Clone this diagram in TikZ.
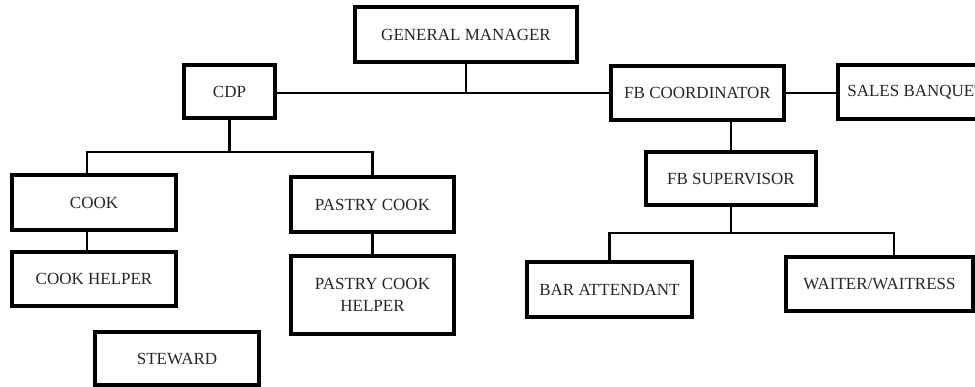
\documentclass[tikz,border=0pt]{standalone}
\usepackage{fontspec}
\setmainfont{Liberation Serif}
\begin{document}
\begin{tikzpicture}[x=1pt,y=-1pt,
  box/.style={draw=black,line width=3.2pt,inner sep=0pt,align=center,
    font=\fontsize{17}{22}\selectfont,text=black!85},
  conn/.style={draw=black,line width=2.2pt}]
\clip (0,0) rectangle (975,386);
\fill[white] (0,0) rectangle (975,386);
\node[box,minimum width=222pt,minimum height=55pt] (gm) at (466,34.5) {GENERAL MANAGER};
\node[box,minimum width=91pt,minimum height=53pt] (cdp) at (229.5,91.5) {CDP};
\node[box,minimum width=173pt,minimum height=54pt] (fbc) at (697.5,93) {FB COORDINATOR};
\node[box,minimum width=156pt,minimum height=54pt] (sales) at (916,92) {SALES BANQUET};
\node[box,minimum width=170pt,minimum height=53pt] (fbs) at (731,178.5) {FB SUPERVISOR};
\node[box,minimum width=165pt,minimum height=55pt] (bar) at (609.5,289.5) {BAR ATTENDANT};
\node[box,minimum width=187pt,minimum height=54pt] (waiter) at (879.5,284) {WAITER/WAITRESS};
\node[box,minimum width=164pt,minimum height=55pt] (cook) at (94,202.5) {COOK};
\node[box,minimum width=164pt,minimum height=54pt] (cookh) at (94,279) {COOK HELPER};
\node[box,minimum width=163pt,minimum height=55pt] (pastry) at (372.5,204.5) {PASTRY COOK};
\node[box,minimum width=163pt,minimum height=78pt] (pch) at (372.5,295) {PASTRY COOK\\HELPER};
\node[box,minimum width=164pt,minimum height=53pt] (steward) at (177,358.5) {STEWARD};
\coordinate (cdpbus) at (229.5,152);
\coordinate (fbsbus) at (731,233);
\coordinate (wj) at (894,233);
\draw[conn] (gm.south) -- (gm.south |- fbc.west);
\draw[conn] (cdp.east |- fbc.west) -- (fbc.west);
\draw[conn] (fbc.east) -- (fbc.east -| sales.west);
\draw[conn] (fbs.north |- fbc.south) -- (fbs.north);
\draw[conn] (fbs.south) -- (fbsbus);
\draw[conn] (bar.north) |- (wj) -- (wj |- waiter.north);
\draw[conn] (cdp.south) -- (cdpbus);
\draw[conn] ([xshift=-7pt]cook.north) |- (pastry.north |- cdpbus) -- (pastry.north);
\draw[conn] ([xshift=-7pt]cook.south) -- ([xshift=-7pt]cookh.north);
\draw[conn] (pastry.south) -- (pch.north);
\end{tikzpicture}
\end{document}
